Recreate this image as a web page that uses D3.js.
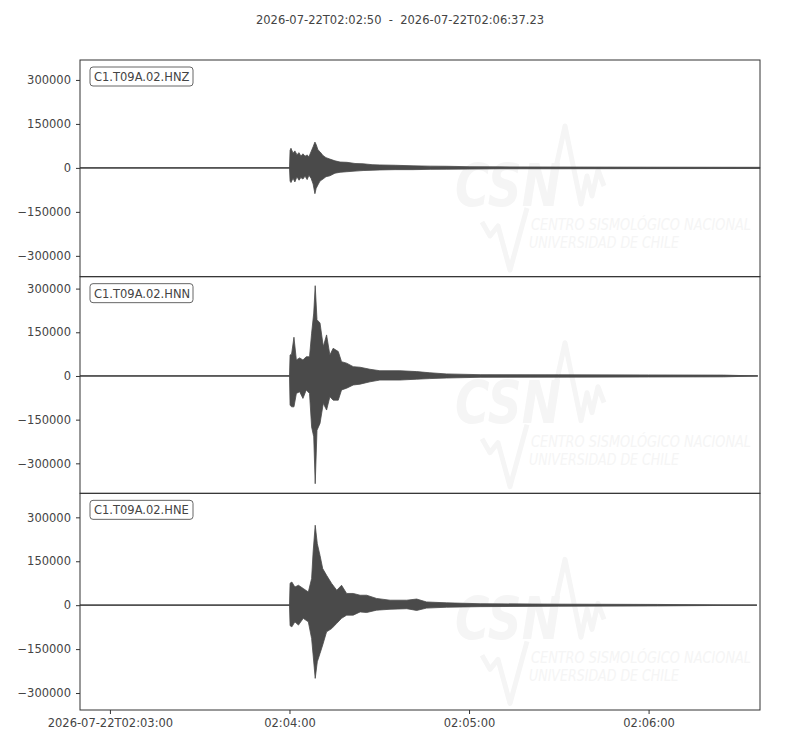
<!DOCTYPE html>
<html>
<head>
<meta charset="utf-8">
<script src="https://cdn.jsdelivr.net/npm/d3@7"></script>
<style>
  body { margin: 0; background: #fff; }
  text { font-family: "DejaVu Sans", sans-serif; }
</style>
</head>
<body>
<svg id="main" width="800" height="750"></svg>
<script>
// ---- data (seconds after 2026-07-22T02:02:50, envelope top / bottom in counts) ----
const channels = ["C1.T09A.02.HNZ", "C1.T09A.02.HNN", "C1.T09A.02.HNE"]
const titleText = "2026-07-22T02:02:50  -  2026-07-22T02:06:37.23"
const yTicks = [-300000, -150000, 0, 150000, 300000]
const yDomains = [[-371000, 368000], [-403000, 341000], [-358000, 382000]]

const hnzT   = [0, 70.0, 70.2, 70.5, 71.2, 71.8, 72.5, 73.2, 73.8, 74.5, 75.2, 75.9, 76.5, 77.2, 77.9, 78.5, 78.9, 79.5, 80.2, 81.2, 82.2, 83.5, 85.2, 86.9, 89.2, 91.9, 94.6, 97.6, 100.2, 105.3, 111.3, 117, 122.6, 130.3, 140.3, 160.4, 190.5, 227.2]
const hnzTop = [0, 0, 60000, 67000, 50000, 58000, 45000, 52000, 40000, 48000, 40000, 44000, 38000, 55000, 72000, 88000, 80000, 62000, 55000, 42000, 35000, 30000, 24000, 20000, 19000, 15000, 14000, 11000, 10000, 9000, 7000, 6000, 5500, 4000, 3500, 3000, 2500, 2000]
const hnzBot = [0, 0, -45000, -50000, -35000, -48000, -30000, -42000, -33000, -38000, -28000, -40000, -25000, -35000, -55000, -88000, -70000, -58000, -45000, -38000, -30000, -27000, -18000, -15000, -13000, -11000, -9000, -8000, -7000, -6000, -6000, -5000, -4500, -4000, -3000, -3000, -2500, -2000]

const hnnT   = [0, 70.0, 70.2, 70.7, 71.5, 72.3, 73.4, 74.5, 75.6, 76.7, 77.4, 78.1, 78.6, 79.2, 80.2, 81.3, 82.4, 83.5, 84.6, 86.3, 87.4, 89.1, 91.3, 93.6, 96.9, 100.2, 106.9, 112.5, 116.9, 122.5, 133.7, 160, 190, 215, 226.5]
const hnnTop = [0, 0, 72000, 75000, 133000, 55000, 62000, 55000, 66000, 66000, 147000, 216000, 310000, 193000, 182000, 101000, 141000, 72000, 95000, 84000, 49000, 44000, 32000, 30000, 23000, 18000, 18000, 15000, 11000, 7000, 4500, 4000, 3500, 3000, 0]
const hnnBot = [0, 0, -100000, -106000, -106000, -60000, -54000, -77000, -48000, -60000, -175000, -209000, -370000, -186000, -163000, -94000, -117000, -71000, -83000, -83000, -48000, -42000, -31000, -28000, -20000, -14000, -14000, -11000, -9000, -7000, -4500, -4000, -3500, -3000, 0]

const hneT   = [0, 70.0, 70.2, 70.8, 71.8, 73.0, 74.6, 76.3, 77.4, 77.9, 78.6, 79.3, 80.2, 81.1, 82.4, 84.1, 85.8, 87.4, 89.1, 91.3, 93.6, 95.8, 99.1, 103.6, 109.2, 112.5, 115.8, 122.5, 133.7, 160, 193, 226.2]
const hneTop = [0, 0, 75000, 79000, 62000, 68000, 57000, 45000, 91000, 182000, 273000, 210000, 170000, 125000, 102000, 74000, 51000, 68000, 40000, 40000, 34000, 34000, 23000, 17000, 17000, 21000, 11000, 8000, 5000, 3500, 2500, 0]
const hneBot = [0, 0, -70000, -74000, -57000, -68000, -45000, -57000, -114000, -170000, -250000, -193000, -165000, -136000, -91000, -80000, -62000, -45000, -34000, -34000, -23000, -25000, -17000, -14000, -12000, -18000, -10000, -7000, -5000, -3500, -2500, 0]

const traces = [
  {t: hnzT, up: hnzTop, down: hnzBot},
  {t: hnnT, up: hnnTop, down: hnnBot},
  {t: hneT, up: hneTop, down: hneBot}
]

const startTime = new Date(Date.UTC(2026, 6, 22, 2, 2, 50))
const endTime = new Date(startTime.getTime() + 227230)
const tickTimes = [3, 4, 5, 6].map(m => new Date(Date.UTC(2026, 6, 22, 2, m, 0)))

// ---- layout ----
const plotLeft = 80, plotRight = 760, plotTop = 60, plotBottom = 710
const panelH = (plotBottom - plotTop) / 3
const inkColor = "#4a4a4a"
const textColor = "#444"
const markColor = "#f5f5f5"
const fontSize = "11.5px"

let svg = d3.select("#main")

svg.append("text")
    .attr("x", 400).attr("y", 24)
    .attr("text-anchor", "middle")
    .style("white-space", "pre")
    .style("font-size", fontSize)
    .attr("fill", textColor)
    .text(titleText)

let xScale = d3.scaleUtc().domain([startTime, endTime]).range([plotLeft, plotRight])
const toDate = s => new Date(startTime.getTime() + s * 1000)

traces.forEach(function (tr, i) {
    let y0 = plotTop + i * panelH
    let yScale = d3.scaleLinear().domain(yDomains[i]).range([y0 + panelH, y0])
    let g = svg.append("g")

    // faint watermark
    let wm = g.append("g").attr("transform", `translate(0,${y0 - 60})`)
    wm.append("path")
        .attr("d", "M482,222 L490,236 L498,226 L510,270 L527,208 M548,204 L565,126 L581,204 L587,176 L592,196 L598,170 L604,186")
        .attr("fill", "none").attr("stroke", markColor).attr("stroke-width", 5)
        .attr("stroke-linejoin", "round")
    wm.append("text")
        .attr("x", 455).attr("y", 206)
        .attr("textLength", 106).attr("lengthAdjust", "spacingAndGlyphs")
        .style("font-size", "58px").style("font-weight", "bold").style("font-style", "italic")
        .attr("fill", markColor).text("CSN")
    wm.append("text")
        .attr("x", 531).attr("y", 230)
        .attr("textLength", 220).attr("lengthAdjust", "spacingAndGlyphs")
        .style("font-family", "'Liberation Sans Narrow', 'DejaVu Sans Condensed', sans-serif")
        .style("font-size", "16px").style("font-style", "italic")
        .attr("fill", markColor).text("CENTRO SISMOLÓGICO NACIONAL")
    wm.append("text")
        .attr("x", 529).attr("y", 248)
        .attr("textLength", 150).attr("lengthAdjust", "spacingAndGlyphs")
        .style("font-family", "'Liberation Sans Narrow', 'DejaVu Sans Condensed', sans-serif")
        .style("font-size", "16px").style("font-style", "italic")
        .attr("fill", markColor).text("UNIVERSIDAD DE CHILE")

    // baseline of the trace
    g.append("line")
        .attr("x1", xScale(toDate(tr.t[0]))).attr("x2", xScale(toDate(tr.t[tr.t.length - 1])))
        .attr("y1", yScale(0)).attr("y2", yScale(0))
        .attr("stroke", inkColor).attr("stroke-width", 1.2)

    // waveform envelope
    let area = d3.area()
        .x((d, k) => xScale(toDate(tr.t[k])))
        .y0((d, k) => yScale(tr.down[k]))
        .y1((d, k) => yScale(tr.up[k]))
    g.append("path")
        .datum(tr.t)
        .attr("d", area)
        .attr("fill", inkColor).attr("stroke", inkColor).attr("stroke-width", 0.8)

    // frame
    g.append("rect")
        .attr("x", plotLeft).attr("y", y0).attr("width", plotRight - plotLeft).attr("height", panelH)
        .attr("fill", "none").attr("stroke", "#333").attr("stroke-width", 1)

    // y axis
    let yAxis = g.append("g")
        .attr("transform", `translate(${plotLeft},0)`)
        .call(d3.axisLeft(yScale).tickValues(yTicks).tickSize(4).tickPadding(5)
            .tickFormat(d => d < 0 ? "\u2212" + Math.abs(d) : String(d)))
    yAxis.select(".domain").remove()
    yAxis.selectAll("line").attr("stroke", "#333")
    yAxis.selectAll("text").attr("fill", textColor).style("font-size", fontSize)
        .style("font-family", "'DejaVu Sans', sans-serif")

    // channel label
    let lab = g.append("g").attr("transform", `translate(90,${y0 + 7})`)
    lab.append("rect")
        .attr("width", 103).attr("height", 19).attr("rx", 3)
        .attr("fill", "#fff").attr("stroke", "#666").attr("stroke-width", 1)
    lab.append("text")
        .attr("x", 4).attr("y", 14)
        .style("font-size", fontSize)
        .attr("fill", textColor)
        .text(channels[i])
})

// x axis
let xAxis = svg.append("g")
    .attr("transform", `translate(0,${plotBottom})`)
    .call(d3.axisBottom(xScale).tickValues(tickTimes).tickSize(4).tickPadding(5)
        .tickFormat((d, i) => i == 0 ? d3.utcFormat("%Y-%m-%dT%H:%M:%S")(d) : d3.utcFormat("%H:%M:%S")(d)))
xAxis.select(".domain").remove()
xAxis.selectAll("line").attr("stroke", "#333")
xAxis.selectAll("text").attr("fill", textColor).style("font-size", fontSize)
    .style("font-family", "'DejaVu Sans', sans-serif")
</script>
</body>
</html>
